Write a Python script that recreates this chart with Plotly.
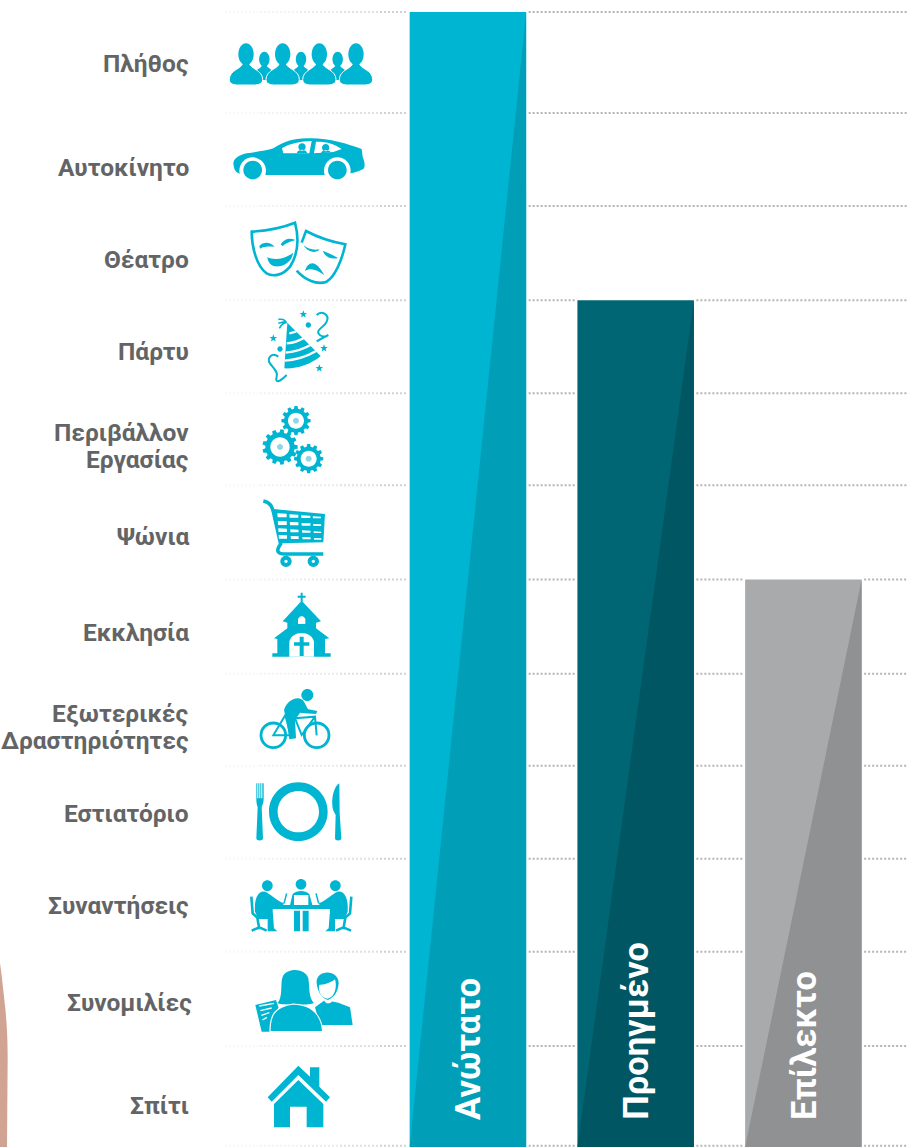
import re
import math
import plotly.graph_objects as go

# ---------- chart data ----------
tiers = ["Ανώτατο", "Προηγμένο", "Επίλεκτο"]
tier_values = [100.0, 74.6, 50.0]
grid_levels = [100.0, 91.1, 82.9, 74.6, 66.4, 58.3, 50.0, 41.7, 33.6, 25.4, 17.2, 8.9, 0.1]
light_colors = ["#00B5D1", "#006673", "#A9AAAC"]
dark_colors = ["#009FB7", "#005662", "#8F9192"]

label_lines = ["Πλήθος", "Αυτοκίνητο", "Θέατρο", "Πάρτυ", "Περιβάλλον", "Εργασίας", "Ψώνια", "Εκκλησία",
               "Εξωτερικές", "Δραστηριότητες", "Εστιατόριο", "Συναντήσεις", "Συνομιλίες", "Σπίτι"]
label_y_px = [64, 167, 259, 351, 432, 459, 537, 632, 713, 740, 813, 905, 1003, 1105]
label_x_px = [189, 189, 189, 189, 189, 189, 189, 189, 189, 189, 189, 189, 192, 189]

# ---------- layout constants ----------
W, H = 907, 1147
PX_PER_X = 167.75
X0_PX = 467.9
BAR_W = 116.5 / PX_PER_X
PX_PER_Y = 11.35
GAP = 2.5 / PX_PER_X
TEAL = "#00B5D1"
TEXT = "#636466"
FONT = "Roboto"

x_range = [-X0_PX / PX_PER_X, (W - X0_PX) / PX_PER_X]
y_range = [0, H / PX_PER_Y]
xs = list(range(len(tiers)))

fig = go.Figure()

# dotted guide lines, broken around any bar that reaches them, fading out to the left
DOT = dict(color="#b4b4b4", width=2, dash="2px,2px")
fade = [(225, 260, 0.08), (260, 300, 0.15), (300, 340, 0.25), (340, 380, 0.4), (380, 409, 0.6)]
for a, b, op in fade:
    gx, gy = [], []
    for lv in grid_levels:
        gx += [(a - X0_PX) / PX_PER_X, min((b - X0_PX) / PX_PER_X, -BAR_W / 2 - GAP), None]
        gy += [lv, lv, None]
    fig.add_trace(go.Scatter(x=gx, y=gy, mode="lines", hoverinfo="skip", showlegend=False, opacity=op, line=DOT))
gx, gy = [], []
for lv in grid_levels:
    start = BAR_W / 2 + GAP
    for i, v in enumerate(tier_values):
        if i == 0:
            continue
        if lv <= v + 0.01:
            gx += [start, i - BAR_W / 2 - GAP, None]
            gy += [lv, lv, None]
            start = i + BAR_W / 2 + GAP
    gx += [start, x_range[1], None]
    gy += [lv, lv, None]
fig.add_trace(go.Scatter(x=gx, y=gy, mode="lines", hoverinfo="skip", showlegend=False, line=DOT))

# bars
fig.add_trace(go.Bar(x=xs, y=tier_values, width=BAR_W, marker=dict(color=light_colors, line=dict(width=0)),
                     hoverinfo="skip", showlegend=False))
# darker lower-right half of each bar, from the bar's own value
for i, v in enumerate(tier_values):
    fig.add_trace(go.Scatter(x=[i + BAR_W / 2, i - BAR_W / 2, i + BAR_W / 2, i + BAR_W / 2], y=[v, 0, 0, v],
                             mode="lines", fill="toself", fillcolor=dark_colors[i], line=dict(width=0),
                             hoverinfo="skip", showlegend=False))

# ---------- text ----------
ann = []
for t, px, py in zip(label_lines, label_x_px, label_y_px):
    ann.append(dict(x=px / W, y=1 - py / H, xref="paper", yref="paper", text=t, showarrow=False,
                    xanchor="right", yanchor="middle",
                    font=dict(family=FONT, size=24.5, color=TEXT, weight=700), xshift=2))
for i, t in enumerate(tiers):
    ann.append(dict(x=i, y=2.2, xref="x", yref="y", text=t, showarrow=False, textangle=-90,
                    xanchor="center", yanchor="bottom",
                    font=dict(family=FONT, size=34.5, color="white", weight=700)))

# ---------- pictograms (drawn in 3x crop space, then mapped to pixels) ----------
shapes = []
def tf(path, oy, mirror=None):
    nums = iter(range(100000))
    def rep(m):
        v = float(m.group(0))
        if next(nums) % 2 == 0:
            if mirror is not None:
                v = 2 * mirror - v
            return f"{v / 3:.2f}"
        return f"{oy + v / 3:.2f}"
    return re.sub(r"-?\d+\.?\d*", rep, path)

def fill(path, oy=0, color=TEAL, mirror=None, lw=0, lc=None):
    shapes.append(dict(type="path", path=tf(path, oy, mirror), xref="x2", yref="y2", fillcolor=color,
                       line=dict(width=lw, color=lc or color), layer="above"))

def stroke(path, oy=0, w=1.5, color=TEAL, mirror=None):
    shapes.append(dict(type="path", path=tf(path, oy, mirror), xref="x2", yref="y2",
                       fillcolor="rgba(0,0,0,0)", line=dict(width=w, color=color), layer="above"))

def ell(cx, cy, rx, ry=None):
    ry = rx if ry is None else ry
    k = 0.5523
    return (f"M {cx-rx},{cy} C {cx-rx},{cy-k*ry} {cx-k*rx},{cy-ry} {cx},{cy-ry} "
            f"C {cx+k*rx},{cy-ry} {cx+rx},{cy-k*ry} {cx+rx},{cy} "
            f"C {cx+rx},{cy+k*ry} {cx+k*rx},{cy+ry} {cx},{cy+ry} "
            f"C {cx-k*rx},{cy+ry} {cx-rx},{cy+k*ry} {cx-rx},{cy} Z")

def star(cx, cy, r):
    pts = []
    for i in range(10):
        rr = r if i % 2 == 0 else r * 0.42
        a = -math.pi / 2 + i * math.pi / 5
        pts.append((cx + rr * math.cos(a), cy + rr * math.sin(a)))
    return "M " + " L ".join(f"{x:.1f},{y:.1f}" for x, y in pts) + " Z"

def gear(cx, cy, ro, ri, hole, n):
    pts = []
    for i in range(n):
        a = 2 * math.pi * i / n
        d = 2 * math.pi / n
        for off, r in ((-0.32, ri), (-0.2, ro), (0.2, ro), (0.32, ri)):
            t = a + off * d
            pts.append((cx + r * math.cos(t), cy + r * math.sin(t)))
    return "M " + " L ".join(f"{x:.1f},{y:.1f}" for x, y in pts) + " Z " + ell(cx, cy, hole)

# crowd
def person(cx, s, base, white=False):
    b = (f"M {cx-10*s},{base-66*s} C {cx-12*s},{base-48*s} {cx-50*s},{base-46*s} {cx-50*s},{base-16*s} "
         f"C {cx-50*s},{base-3*s} {cx-35*s},{base} {cx-25*s},{base} L {cx+25*s},{base} "
         f"C {cx+35*s},{base} {cx+50*s},{base-3*s} {cx+50*s},{base-16*s} "
         f"C {cx+50*s},{base-46*s} {cx+12*s},{base-48*s} {cx+10*s},{base-66*s} Z")
    if white:
        fill(b, lw=1.0, lc="white")
    else:
        fill(b)
    fill(ell(cx, base - 92 * s, 23 * s, 33 * s))
for c in (793, 903, 1013):
    person(c, 0.68, 240)
for c in (738, 848, 958, 1068):
    person(c, 1.0, 255, white=True)

# car
fill("M 700,490 C 702,475 715,466 740,460 C 770,455 800,452 820,445 C 850,425 880,415 920,415 "
     "C 980,412 1040,430 1085,447 L 1088,470 C 1096,490 1095,502 1090,507 C 1070,518 1050,520 1030,525 "
     "L 740,525 C 715,522 702,520 700,490 Z")
fill(ell(758, 512, 40), color="white")
fill(ell(1012, 512, 40), color="white")
fill(ell(758, 510, 28))
fill(ell(1012, 510, 28))
fill("M 846,445 C 870,430 900,424 935,423 L 928,460 L 850,460 Z M 948,425 C 985,425 1005,433 1025,447 L 1000,456 L 942,460 Z",
     color="white")
fill(ell(906, 441, 11) + " M 890,460 C 893,446 919,446 922,460 Z")
fill(ell(977, 443, 11) + " M 963,460 C 964,448 990,448 992,457 Z")

# masks
stroke("M 755,695 C 800,692 850,682 885,668 C 896,710 896,760 870,800 C 850,825 820,832 800,820 C 770,800 755,740 755,695 Z", w=2.6)
stroke("M 905,728 L 918,693 C 950,710 990,725 1036,733 C 1026,780 1005,830 980,845 C 950,856 915,840 890,812", w=2.6)
fill("M 802,772 C 825,783 860,775 879,758 C 877,788 845,802 825,799 C 812,797 804,787 802,772 Z")
fill("M 778,738 C 790,724 810,725 824,740 C 810,739 790,739 780,746 Z")
fill("M 842,733 C 855,714 870,713 886,720 C 870,725 855,730 848,739 Z")
fill("M 915,813 C 925,780 950,780 973,826 C 950,807 930,803 915,813 Z")
fill("M 911,736 C 925,748 940,751 958,748 C 956,758 925,762 911,736 Z")
fill("M 968,752 C 985,758 1000,766 1014,774 C 995,779 975,772 968,752 Z")

# party hat
fill("M 862,968 L 853,1105 C 890,1107 935,1092 962,1068 Z")
for p in ("M 868,1000 Q 885,998 898,988", "M 860,1030 Q 890,1028 918,1010", "M 857,1058 Q 900,1054 937,1032", "M 855,1082 Q 905,1078 950,1052"):
    stroke(p, w=2.4, color="white")
stroke("M 860,968 C 850,955 845,958 835,958 M 860,968 C 850,968 845,972 838,985 M 860,968 C 855,962 850,966 835,970", w=1.6)
for c in ((910, 943, 12), (820, 1015, 12), (972, 1045, 12), (958, 1105, 12)):
    fill(star(*c))
fill(ell(925, 975, 8))
fill(ell(840, 1047, 8))
stroke("M 950,945 C 965,930 990,945 980,965 C 972,985 950,985 955,1000 C 962,1012 975,1012 985,1005 M 950,1024 C 960,1018 975,1010 985,1005", w=2)
stroke("M 835,1070 C 815,1055 800,1075 810,1090 C 820,1105 835,1115 830,1130 C 825,1148 835,1150 860,1125", w=2)

# gears
for cx, cy, ro, ri, h, n in ((888, 62, 44, 36, 24, 12), (840, 141, 53, 44, 29, 13), (926, 176, 44, 36, 24, 12)):
    fill(gear(cx, cy, ro, ri, h, n), 400)
    fill(ell(cx, cy, 9), 400, color="#8FD6E6")

# cart
stroke("M 790,303 C 812,308 816,320 820,335 L 842,432 C 825,455 835,462 855,462 L 970,462", 400, w=3.6)
fill("M 820,327 L 975,342 L 970,427 L 840,430 Z", 400)
cols = [(832, 860), (868, 895), (903, 931), (938, 963)]
rows = [(340, 352), (363, 375), (385, 396), (405, 416)]
for ri, (t, b) in enumerate(rows):
    for ci, (l, r) in enumerate(cols):
        dx = ri * 1.3
        fill(f"M {l+dx},{t+ci*3} L {r+dx-ri},{t+ci*3+1} L {r+dx-ri},{b+ci*1} L {l+dx+1},{b+ci*1} Z", 400, color="white")
fill(ell(858, 484, 17) + " " + ell(858, 484, 5), 400)
fill(ell(940, 484, 17) + " " + ell(940, 484, 5), 400)

# church
fill("M 905,602 L 963,664 L 948,668 L 948,685 L 988,715 L 975,717 L 975,760 L 992,760 L 992,770 L 817,770 "
     "L 817,760 L 832,760 L 832,717 L 822,715 L 862,685 L 862,668 L 848,664 Z", 400)
fill("M 902,578 L 908,578 L 908,587 L 917,587 L 917,593 L 908,593 L 908,605 L 902,605 L 902,593 L 893,593 L 893,587 L 902,587 Z", 400)
fill("M 894,672 L 894,656 Q 905,640 916,656 L 916,672 Z", 400, color="white")
fill("M 868,770 L 868,725 C 875,690 935,690 942,725 L 942,770 Z", 400, color="white")
fill("M 899,710 L 911,710 L 911,727 L 928,727 L 928,737 L 911,737 L 911,768 L 899,768 L 899,737 L 882,737 L 882,727 L 899,727 Z", 400)

# cyclist
stroke(ell(820, 1006, 37), 400, w=2.8)
stroke(ell(950, 1006, 37), 400, w=2.8)
stroke("M 820,1006 L 856,945 L 872,1006 Z M 885,955 L 945,950 L 950,1006 M 885,955 L 905,1005 L 945,950", 400, w=2)
fill(ell(922, 885, 18), 400)
fill("M 852,930 C 860,905 885,888 905,898 C 915,905 918,920 925,928 L 952,933 L 948,942 L 915,940 L 900,938 "
     "L 885,960 L 888,1015 L 868,1018 L 860,965 Z", 400)

# restaurant
fill(ell(895, 125, 88) + " " + ell(895, 125, 62), 770)
fill("M 769,40 L 772,40 L 772,85 L 775,85 L 775,40 L 778,40 L 778,85 L 781,85 L 781,40 L 784,40 L 784,85 L 787,85 L 787,40 "
     "L 791,40 L 791,85 C 791,100 787,105 785,112 L 789,205 C 789,214 769,214 769,205 L 773,112 C 771,105 769,100 769,85 Z", 770)
fill("M 1018,40 C 1002,50 995,80 997,105 C 997,120 1005,130 1007,135 L 1005,205 C 1005,214 1024,214 1024,205 L 1019,130 Z", 770)

# meeting
fill("M 800,405 L 1008,405 L 1008,417 L 800,417 Z", 770)
fill(ell(903, 343, 16), 770)
fill("M 870,405 L 878,372 C 890,360 916,360 928,372 L 937,405 Z", 770)
fill("M 882,375 L 925,375 L 925,405 L 882,405 Z", 770, color="white")
fill("M 882,422 L 900,422 L 900,484 L 882,484 Z M 908,422 L 926,422 L 926,484 L 908,484 Z", 770)
for m in (None, 904):
    fill(ell(802, 347, 16), 770, mirror=m)
    fill("M 765,425 C 762,385 775,362 795,365 C 810,370 830,392 852,400 L 848,408 L 820,405 L 818,422 L 822,475 L 832,484 "
         "L 803,484 L 803,447 L 775,447 Z", 770, mirror=m)
    stroke("M 754,380 L 758,430 L 772,443 L 778,478 M 755,482 L 778,472 L 800,482", 770, w=2.6, mirror=m)
    stroke("M 852,400 L 860,370", 770, w=1.5, mirror=m)

# conversation
fill("M 766,705 L 828,690 L 835,712 L 810,785 L 785,785 Z", 770)
for y0 in (708, 722, 736, 750):
    stroke(f"M {778+(y0-708)*0.22},{y0} L {822-(y0-708)*0.5},{y0-8}", 770, w=1.3, color="white")
fill("M 945,712 L 975,690 L 1015,698 L 1050,712 L 1058,765 L 960,765 Z", 770)
fill("M 972,692 L 985,705 L 998,692 L 993,690 L 975,688 Z", 770, color="white")
fill("M 980,700 L 992,700 L 990,715 L 985,722 L 982,715 Z", 770)
fill("M 950,640 C 945,598 1016,595 1016,640 C 1014,660 1008,680 984,690 C 962,685 952,660 950,640 Z", 770)
fill("M 957,645 C 970,645 990,640 1005,628 C 1012,650 1005,683 982,686 C 962,683 955,665 957,645 Z", 770, color="white")
fill("M 832,700 C 850,680 840,640 848,620 C 860,593 915,593 925,625 C 930,660 925,680 942,700 C 920,706 850,706 832,700 Z", 770)
fill("M 810,785 C 810,740 820,710 880,702 C 940,705 965,740 968,785 Z", 770, lw=1.2, lc="white")

# house
fill("M 895,887 L 930,920 L 930,892 L 958,892 L 958,950 L 990,982 L 978,995 L 895,915 L 815,995 L 803,982 Z", 770)
fill("M 895,930 L 970,1002 L 970,1072 L 920,1072 L 920,1010 L 870,1010 L 870,1072 L 822,1072 L 822,1002 Z", 770)

# sliver of the cropped photo on the left edge
fill("M 0,579 C 6,620 12,680 16,715 C 20,760 23,800 23,860 L 21,1131 L 0,1131 Z", 770, color="#D0A392")

fig.update_layout(
    width=W, height=H, margin=dict(l=0, r=0, t=0, b=0), plot_bgcolor="white", paper_bgcolor="white",
    showlegend=False, barmode="overlay", annotations=ann, shapes=shapes,
    xaxis=dict(range=x_range, visible=False, fixedrange=True),
    yaxis=dict(range=y_range, visible=False, fixedrange=True),
    xaxis2=dict(range=[0, W], overlaying="x", visible=False, fixedrange=True, anchor="y2"),
    yaxis2=dict(range=[H, 0], overlaying="y", visible=False, fixedrange=True, anchor="x2"),
)
fig.write_html("out.html", config=dict(displayModeBar=False),
               post_script="document.body.style.margin='0';document.body.style.overflow='hidden';")
